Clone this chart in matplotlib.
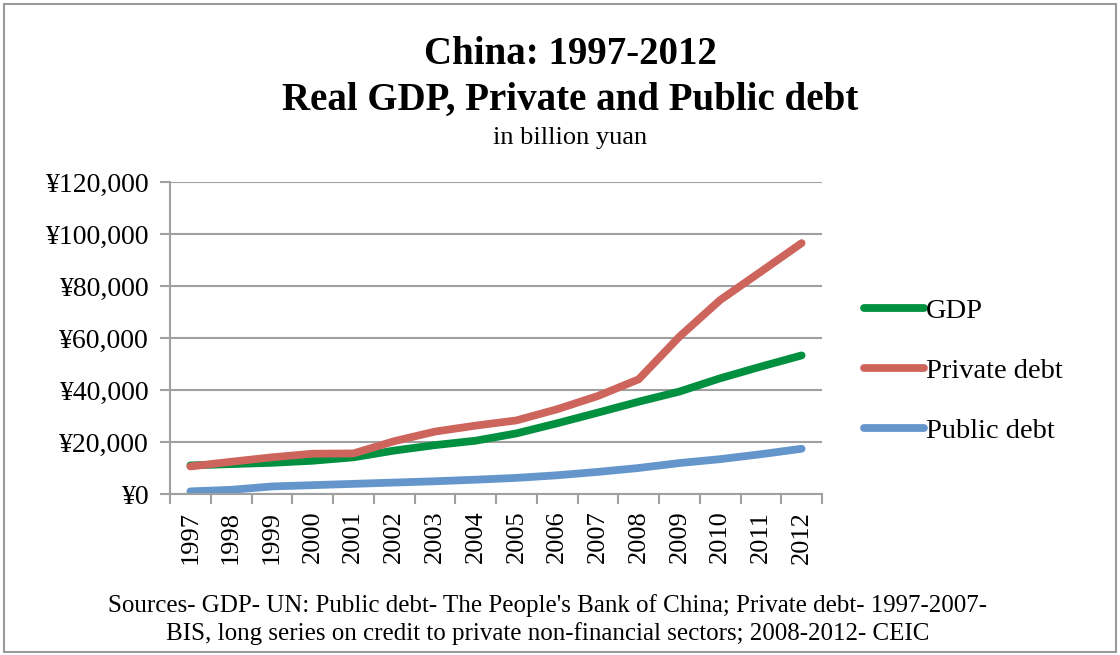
import matplotlib

matplotlib.use("Agg")
import matplotlib.pyplot as plt
from matplotlib.patches import Rectangle
from matplotlib.ticker import FuncFormatter, FixedLocator

plt.rcParams["font.family"] = ["Liberation Serif", "DejaVu Serif"]

years = [str(y) for y in range(1997, 2013)]
gdp = [11.0, 11.5, 12.0, 12.8, 14.1, 16.7, 18.8, 20.5, 23.3, 27.2, 31.3, 35.5, 39.4, 44.5, 49.0, 53.3]
private_debt = [10.6, 12.4, 14.1, 15.5, 15.6, 20.3, 24.0, 26.3, 28.3, 32.6, 37.7, 44.1, 60.5, 74.6, 85.5, 96.5]
public_debt = [1.0, 1.6, 2.9, 3.4, 3.9, 4.4, 4.9, 5.5, 6.2, 7.2, 8.5, 10.0, 11.9, 13.4, 15.3, 17.4]
# values above are in thousand billion yuan
series = [
    ("GDP", gdp, "#00903f"),
    ("Private debt", private_debt, "#cd655d"),
    ("Public debt", public_debt, "#6496cc"),
]

fig = plt.figure(figsize=(11.2, 6.55), dpi=100)
fig.patches.append(Rectangle((0.004, 0.004), 0.992, 0.99, transform=fig.transFigure,
                             fill=False, edgecolor="#9a9a9a", linewidth=1.5))

ax = fig.add_axes([170 / 1120, 1 - 494 / 655, (822 - 170) / 1120, (494 - 182) / 655])
x = list(range(len(years)))
for name, vals, color in series:
    ax.plot(x, [v * 1000 for v in vals], color=color, linewidth=5.6,
            solid_capstyle="round", solid_joinstyle="round", label=name)

ax.set_xlim(-0.5, len(years) - 0.5)
ax.set_ylim(0, 120000)
ax.set_yticks(range(0, 120001, 20000))
ax.yaxis.set_major_formatter(FuncFormatter(lambda v, p: f"¥{int(v):,}"))
ax.set_xticks(x)
ax.set_xticklabels(years, rotation=90, fontsize=19)
ax.xaxis.set_minor_locator(FixedLocator([i - 0.5 for i in range(len(years) + 1)]))
ax.tick_params(axis="x", which="major", length=0, pad=12)
ax.tick_params(axis="x", which="minor", length=7, width=1.5, color="#a0a0a0")
ax.tick_params(axis="y", length=7, width=1.5, color="#a0a0a0", labelsize=20, pad=8)
ax.grid(True, axis="y", color="#a0a0a0", linewidth=1.5)
ax.set_axisbelow(True)
for s in ("top", "right"):
    ax.spines[s].set_visible(False)
for s in ("left", "bottom"):
    ax.spines[s].set_color("#a0a0a0")
    ax.spines[s].set_linewidth(1.5)

fig.legend(loc="upper left", bbox_to_anchor=(864 / 1120, 1 - 298 / 655), frameon=False,
           fontsize=20.5, handlelength=2.1, handletextpad=0.08, labelspacing=1.2,
           borderpad=0, borderaxespad=0)

fig.text(0.509, 1 - 55 / 655, "China: 1997-2012", ha="center", va="center",
         fontsize=28, fontweight="bold")
fig.text(0.509, 1 - 100 / 655, "Real GDP, Private and Public debt", ha="center",
         va="center", fontsize=28, fontweight="bold")
fig.text(0.509, 1 - 138 / 655, "in billion yuan", ha="center", va="center", fontsize=19)
fig.text(548 / 1120, 1 - 606 / 655,
         "Sources- GDP- UN: Public debt- The People's Bank of China; Private debt- 1997-2007-",
         ha="center", va="center", fontsize=18)
fig.text(548 / 1120, 1 - 634 / 655,
         "BIS, long series on credit to private non-financial sectors; 2008-2012- CEIC",
         ha="center", va="center", fontsize=18)

fig.savefig("out.png", dpi=100)
